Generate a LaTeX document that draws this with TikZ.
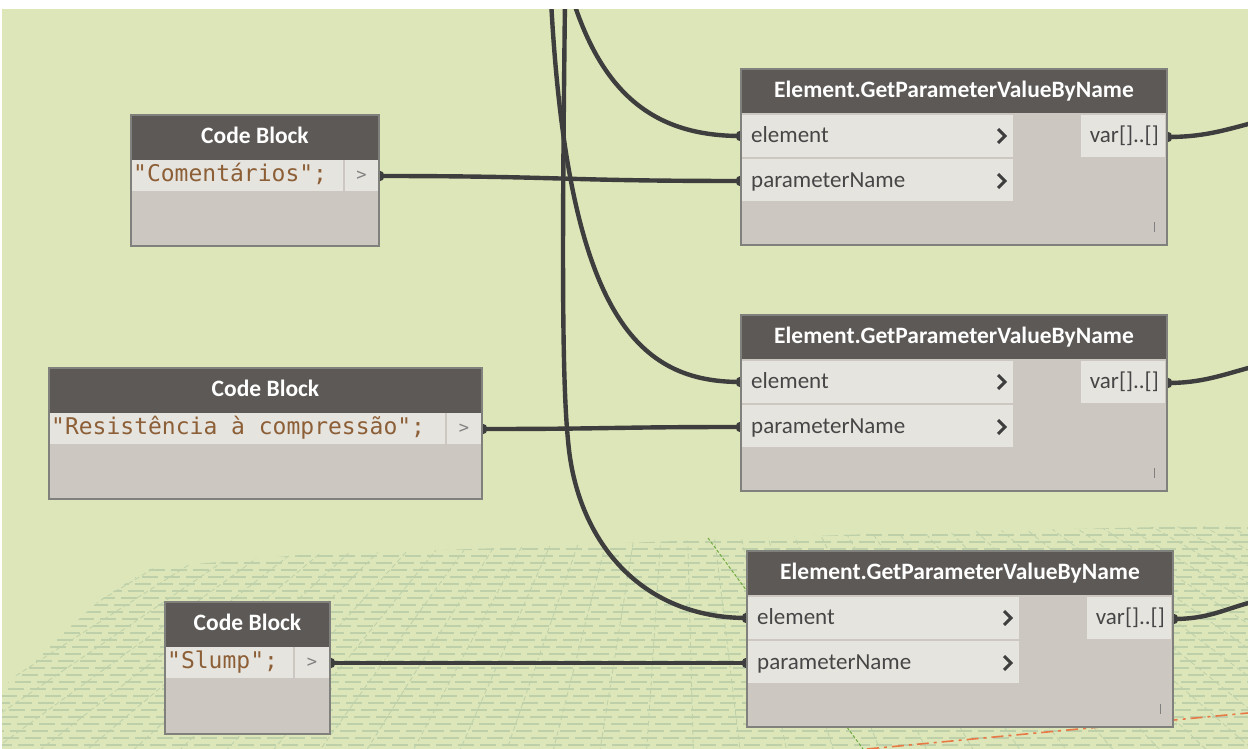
\documentclass[tikz,border=0pt]{standalone}
\usepackage{fontspec}
\setmainfont{Carlito}
\newfontfamily\codefont{DejaVu Sans Mono}
\definecolor{bgc}{RGB}{220,230,184}
\definecolor{gridc}{RGB}{190,208,170}
\definecolor{headc}{RGB}{92,89,86}
\definecolor{rowc}{RGB}{230,228,223}
\definecolor{bodyc}{RGB}{204,200,193}
\definecolor{borderc}{RGB}{128,128,124}
\definecolor{wirec}{RGB}{62,62,62}
\definecolor{codec}{RGB}{140,95,55}
\definecolor{txtc}{RGB}{70,70,70}
\definecolor{orangec}{RGB}{232,120,70}
\definecolor{greenl}{RGB}{110,170,60}
\pgfdeclarelayer{bglayer}
\pgfdeclarelayer{wirelayer}
\pgfdeclarelayer{toplayer}
\pgfsetlayers{bglayer,wirelayer,main,toplayer}
\tikzset{
  hdrtxt/.style={text=white,font=\bfseries\fontsize{23.5}{23.5}\selectfont,inner sep=0pt},
  porttxt/.style={text=txtc,font=\fontsize{23}{23}\selectfont,inner sep=0pt},
  codetxt/.style={text=codec,font=\codefont\fontsize{23}{23}\selectfont,inner sep=0pt},
  outtxt/.style={text=gray,font=\codefont\fontsize{17}{17}\selectfont,inner sep=0pt},
  chevst/.style={wirec,line width=3pt,line join=miter},
  wire/.style={wirec,line width=4.4pt,line cap=round},
  boxline/.style={borderc,line width=1.5pt},
  gridl/.style={gridc,line width=1.2pt}
}
\newcommand{\CodeNode}[6]{%
\begin{scope}[shift={#2}]
\fill[bodyc] (0,0) rectangle (#3,#6);
\fill[headc] (0,0) rectangle (#3,45);
\fill[rowc] (0,45) rectangle (#3,76);
\draw[bodyc,line width=1.5pt] (#4,45) -- (#4,76);
\draw[boxline] (0,0) rectangle (#3,#6);
\node[hdrtxt] (#1-title) at ({#3/2},20) {Code Block};
\node[codetxt,anchor=mid west] (#1-code) at (2,64) {#5};
\node[outtxt] (#1-gt) at ({(#4+#3)/2},61) {>};
\coordinate (#1-o) at (#3,61);
\end{scope}}
\newcommand{\ElemNode}[2]{%
\begin{scope}[shift={#2}]
\fill[bodyc] (0,0) rectangle (426,176);
\fill[headc] (0,0) rectangle (426,44);
\fill[rowc] (0,46) rectangle (272,88);
\fill[rowc] (0,90) rectangle (272,132);
\fill[rowc] (340,46) rectangle (424,88);
\draw[boxline] (0,0) rectangle (426,176);
\node[hdrtxt] (#1-title) at (213,22) {Element.GetParameterValueByName};
\node[porttxt,anchor=mid west] (#1-el) at (10,71) {element};
\node[porttxt,anchor=mid west] (#1-pn) at (10,116) {parameterName};
\node[porttxt,anchor=mid east] (#1-var) at (418,71) {var[]..[]};
\draw[chevst] (257,60) -- (264,67) -- (257,74);
\draw[chevst] (257,105) -- (264,112) -- (257,119);
\draw[gray,line width=1pt] (413,153) -- (413,163);
\coordinate (#1-in1) at (0,67);
\coordinate (#1-in2) at (0,112);
\coordinate (#1-o) at (426,68);
\end{scope}}
\begin{document}
\begin{tikzpicture}[x=1pt,y=-1pt]
\useasboundingbox (0,0) rectangle (1248,749);
\begin{pgfonlayer}{bglayer}
\fill[bgc] (0,0) rectangle (1248,749);
\begin{scope}
\clip (0,749) -- (0,690) -- (50,645) -- (100,600) -- (150,568) -- (300,555) -- (500,548) -- (700,540) -- (900,533) -- (1248,525) -- (1248,749) -- cycle;
\foreach \yy [count=\i] in {528,535,...,749} {
  \pgfmathsetmacro{\ph}{mod(\i*7,22)}
  \draw[gridl,dash pattern=on 16pt off 6pt,dash phase=\ph pt] (0,\yy) -- (1248,\yy);
}
\foreach \xx in {-1400,-1330,...,2800} {
  \draw[gridl,line width=0.8pt,dash pattern=on 5pt off 3pt] (680,250) -- (\xx,1000);
}
\end{scope}
\draw[greenl,line width=1pt,dash pattern=on 3pt off 2pt] (708,538) -- (863,749);
\draw[orangec,line width=1.6pt,dash pattern=on 12pt off 5pt on 3pt off 5pt] (867,749) -- (1248,713);
\end{pgfonlayer}

\CodeNode{cbA}{(131,115)}{248}{213}{"Comentários";}{131}
\CodeNode{cbB}{(49,368)}{433}{397}{"Resistência à compressão";}{131}
\CodeNode{cbC}{(165,602)}{165}{129}{"Slump";}{132}
\ElemNode{gpA}{(741,69)}
\ElemNode{gpB}{(741,315)}
\ElemNode{gpC}{(747,551)}

\coordinate (srcA) at (573,0);
\coordinate (srcB) at (551,0);
\coordinate (srcC) at (565,0);
\coordinate (midC) at (568,440);
\coordinate (outA) at (1252,123);
\coordinate (outB) at (1252,367);
\coordinate (outC) at (1252,602);

\begin{pgfonlayer}{wirelayer}
\draw[wire] (cbA-o) .. controls +(180,0) and +(-180,0) .. (gpA-in2);
\draw[wire] (cbB-o) .. controls +(130,0) and +(-130,0) .. (gpB-in2);
\draw[wire] (cbC-o) .. controls +(200,0) and +(-200,0) .. (gpC-in2);
\draw[wire] (srcA) .. controls (605,100) and (660,136) .. (gpA-in1);
\draw[wire] (srcB) .. controls (568,320) and (640,382) .. (gpB-in1);
\draw[wire] (srcC) .. controls (562,250) and (562,380) .. (midC)
  .. controls (576,540) and (640,618) .. (gpC-in1);
\draw[wire] (gpA-o) .. controls +(35,0) and +(-30,8) .. (outA);
\draw[wire] (gpB-o) .. controls +(35,0) and +(-30,8) .. (outB);
\draw[wire] (gpC-o) .. controls +(35,0) and +(-30,8) .. (outC);
\foreach \p in {cbA-o,cbB-o,cbC-o,gpA-in1,gpA-in2,gpB-in1,gpB-in2,gpC-in1,gpC-in2,gpA-o,gpB-o,gpC-o}
  \fill[wirec] (\p) circle (5.5pt);
\end{pgfonlayer}

\begin{pgfonlayer}{toplayer}
\fill[white] (0,0) rectangle (1248,9);
\fill[white] (0,0) rectangle (2,749);
\end{pgfonlayer}
\end{tikzpicture}
\end{document}
